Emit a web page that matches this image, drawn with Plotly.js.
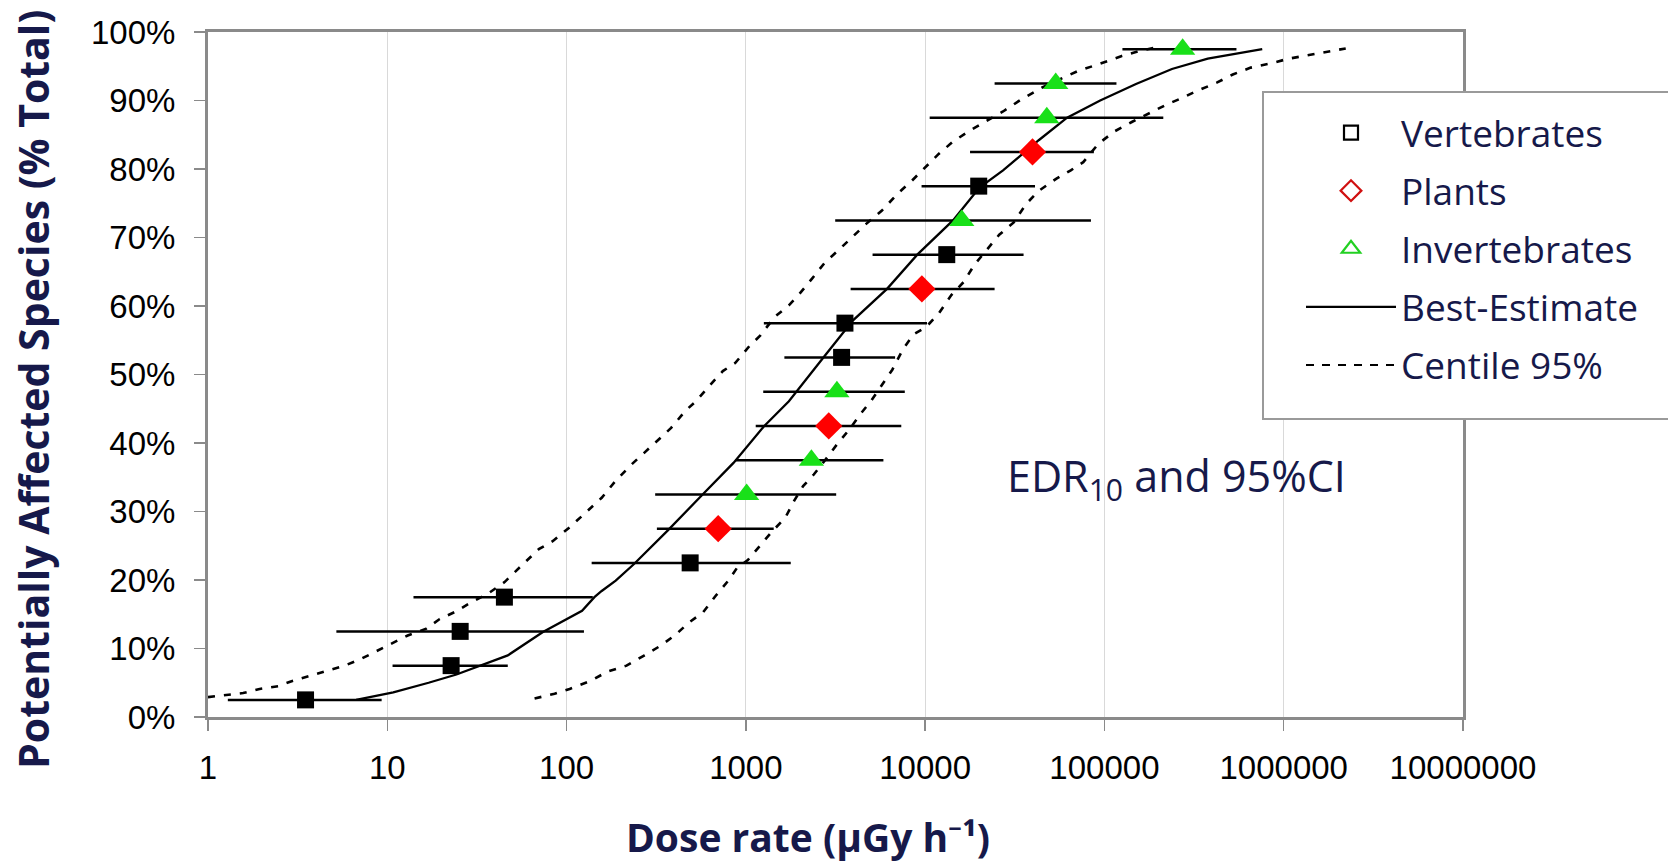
<!DOCTYPE html>
<html>
<head>
<meta charset="utf-8">
<script src="https://cdn.plot.ly/plotly-3.0.1.min.js"></script>
<style>html,body{margin:0;padding:0;background:#fff;}#chart{width:1668px;height:863px;}</style>
</head>
<body>
<div id="chart"></div>
<script>
// ---- Data ----
const vertX  = [3.5, 22.7, 25.5, 45, 489, 3420, 3570, 13200, 19900];
const vertY  = [2.5, 7.5, 12.5, 17.5, 22.5, 52.5, 57.5, 67.5, 77.5];
const vertLo = [1.29, 10.7, 5.2, 14, 138, 1640, 1260, 5090, 9550];
const vertHi = [9.3, 47, 125, 140, 1780, 6800, 10240, 35400, 41000];

const plantX  = [701, 2900, 9590, 39700];
const plantY  = [27.5, 42.5, 62.5, 82.5];
const plantLo = [319, 1135, 3840, 17800];
const plantHi = [1430, 7360, 24400, 87300];

const invX  = [1010, 2320, 3220, 16000, 47700, 53500, 273000];
const invY  = [32.5, 37.5, 47.5, 72.5, 87.5, 92.5, 97.5];
const invLo = [312, 873, 1250, 3150, 10600, 24400, 126000];
const invHi = [3190, 5850, 7700, 84100, 213000, 116700, 545000];

const bestX = [6.7, 10.8, 17, 24.3, 47, 73.8, 122, 143, 157, 188, 237, 366, 565, 853, 1259, 1738, 2750, 3960, 6130, 9040, 14300, 20100, 27200, 34100, 43000, 61900, 94700, 150000, 238000, 377000, 759000];
const bestY = [2.5, 3.6, 5.0, 6.2, 9.0, 12.4, 15.5, 17.5, 18.4, 19.9, 22.3, 27.2, 32.3, 37.1, 42.4, 46.1, 52.7, 57.9, 62.5, 67.5, 72.5, 77.3, 79.8, 82.0, 84.2, 87.5, 90.0, 92.4, 94.6, 96.1, 97.5];

const upperX = [1.0, 1.24, 1.57, 1.94, 2.46, 2.98, 3.69, 4.57, 5.78, 7.16, 9.06, 13.0, 16.5, 19.6, 23.7, 28.8, 36.4, 45.1, 57.1, 70, 84, 104, 125, 157, 188, 231, 272, 326, 383, 460, 527, 634, 744, 874, 1050, 1205, 1447, 1738, 1995, 2340, 2750, 3300, 3960, 4650, 5720, 7030, 8440, 10100, 11900, 14300, 18000, 21600, 27200, 34100, 45000, 56500, 71100, 92700, 125000, 160000, 200000];
const upperY = [2.9, 3.2, 3.5, 4.1, 4.5, 5.3, 6.0, 6.8, 7.5, 8.5, 9.8, 11.9, 12.9, 14.3, 15.3, 16.6, 18.0, 19.7, 22.3, 24.5, 25.7, 27.7, 29.6, 32.0, 34.5, 36.9, 38.6, 40.5, 42.2, 44.7, 46.1, 48.5, 50.5, 51.7, 54.2, 55.7, 58.4, 60.1, 61.8, 64.0, 66.3, 68.2, 70.2, 71.9, 73.9, 76.4, 78.3, 80.3, 82.2, 84.0, 85.7, 86.9, 88.4, 90.1, 91.9, 93.1, 94.3, 95.3, 96.5, 97.3, 97.8];

const lowerX = [66.3, 85.7, 104, 137, 168, 216, 272, 334, 401, 482, 578, 679, 798, 894, 1025, 1177, 1381, 1660, 1862, 2086, 2393, 2750, 3223, 3784, 4345, 4980, 5720, 6560, 7530, 8640, 10100, 11900, 14000, 16400, 18800, 22100, 25900, 31200, 36600, 43000, 54000, 64900, 76200, 92700, 114000, 143000, 180000, 222000, 273000, 328000, 423000, 520000, 655000, 843000, 1062000, 1368000, 1722000, 2218000];
const lowerY = [2.7, 3.4, 4.1, 5.3, 6.6, 7.5, 9.0, 10.4, 11.9, 13.8, 15.3, 17.7, 19.9, 21.8, 22.9, 24.8, 26.9, 29.1, 31.6, 33.7, 35.4, 37.4, 39.8, 42.0, 44.2, 46.1, 48.5, 50.7, 53.7, 55.9, 56.9, 58.9, 61.6, 63.5, 66.0, 68.2, 70.4, 72.2, 74.9, 76.8, 78.6, 79.8, 81.0, 83.7, 85.5, 86.9, 88.2, 89.4, 90.4, 91.4, 92.6, 93.8, 94.8, 95.4, 96.1, 96.6, 97.0, 97.6];

const xTickVals = [1, 10, 100, 1000, 10000, 100000, 1000000, 10000000];
const xTickText = ["1", "10", "100", "1000", "10000", "100000", "1000000", "10000000"];
const yTickVals = [0, 10, 20, 30, 40, 50, 60, 70, 80, 90, 100];
const yTickText = ["0%", "10%", "20%", "30%", "40%", "50%", "60%", "70%", "80%", "90%", "100%"];

const seriesNames = ["Vertebrates", "Plants", "Invertebrates", "Best-Estimate", "Centile 95%"];

// ---- Styling ----
const NAVY = '#16194a';
const GREEN = '#19e019';
const RED = '#ff0000';

function errX(x, lo, hi) {
  return {
    type: 'data', symmetric: false,
    array: hi.map((h, i) => h - x[i]),
    arrayminus: lo.map((l, i) => x[i] - l),
    color: '#000', thickness: 2.5, width: 0
  };
}

const dashStyle = {color: '#000', width: 2.6, dash: '7px,9px'};

const traces = [
  {x: upperX, y: upperY, mode: 'lines', line: dashStyle, showlegend: false, hoverinfo: 'skip'},
  {x: lowerX, y: lowerY, mode: 'lines', line: dashStyle, showlegend: false, hoverinfo: 'skip'},
  {x: bestX, y: bestY, mode: 'lines', line: {color: '#000', width: 2.3}, showlegend: false, hoverinfo: 'skip'},
  {x: vertX, y: vertY, mode: 'markers', error_x: errX(vertX, vertLo, vertHi),
   marker: {symbol: 'square', size: 17, color: '#000'}, showlegend: false},
  {x: plantX, y: plantY, mode: 'markers', error_x: errX(plantX, plantLo, plantHi),
   marker: {symbol: 'diamond', size: 21, color: RED}, showlegend: false},
  {x: invX, y: invY, mode: 'markers', error_x: errX(invX, invLo, invHi),
   marker: {symbol: 'triangle-up', size: 22, color: GREEN}, showlegend: false},
  // legend entries (Excel-style hollow symbols)
  {x: [null], y: [null], name: seriesNames[0], mode: 'markers', legendgroup: 'a',
   marker: {symbol: 'square-open', size: 14, color: '#000', line: {width: 2.2, color: '#000'}}},
  {x: [null], y: [null], name: seriesNames[1], mode: 'markers', legendgroup: 'b',
   marker: {symbol: 'diamond-open', size: 16, color: '#d01010', line: {width: 2.2, color: '#d01010'}}},
  {x: [null], y: [null], name: seriesNames[2], mode: 'markers', legendgroup: 'c',
   marker: {symbol: 'triangle-up-open', size: 16, color: '#22d022', line: {width: 2.2, color: '#22d022'}}},
  {x: [null], y: [null], name: seriesNames[3], mode: 'lines', legendgroup: 'd',
   line: {color: '#000', width: 2.4}},
  {x: [null], y: [null], name: seriesNames[4], mode: 'lines', legendgroup: 'e',
   line: {color: '#000', width: 2, dash: '8px,8px'}}
];

const L = 208, R = 1463, T = 32, B = 717;
const W = 1668, H = 863;
const px = v => (v - L) / (R - L);   // pixel -> paper x
const py = v => (B - v) / (B - T);   // pixel -> paper y

const layout = {
  width: W, height: H,
  paper_bgcolor: '#fff', plot_bgcolor: '#fff',
  margin: {l: L, r: W - R, t: T, b: H - B, pad: 0},
  showlegend: true,
  xaxis: {
    type: 'log', range: [0, 7], autorange: false,
    tickmode: 'array', tickvals: xTickVals, ticktext: xTickText,
    showgrid: true, gridcolor: '#d9d9d9', gridwidth: 1,
    showline: true, linecolor: '#8a8a8a', linewidth: 3, mirror: true,
    ticks: 'outside', ticklen: 11, tickwidth: 1.5, tickcolor: '#8a8a8a',
    ticklabelstandoff: 8,
    tickfont: {family: 'Liberation Sans, Arial, sans-serif', size: 33, color: '#000'},
    zeroline: false, fixedrange: true
  },
  yaxis: {
    range: [0, 100], autorange: false,
    tickmode: 'array', tickvals: yTickVals, ticktext: yTickText,
    showgrid: false,
    showline: true, linecolor: '#8a8a8a', linewidth: 3, mirror: true,
    ticks: 'outside', ticklen: 11, tickwidth: 1.5, tickcolor: '#8a8a8a',
    ticklabelstandoff: 12,
    tickfont: {family: 'Liberation Sans, Arial, sans-serif', size: 33, color: '#000'},
    zeroline: false, fixedrange: true
  },
  shapes: [
    {type: 'rect', xref: 'paper', yref: 'paper', layer: 'above',
     x0: px(1263), x1: px(1690), y0: py(419), y1: py(92),
     line: {color: '#9a9a9a', width: 2}, fillcolor: '#ffffff'}
  ],
  legend: {
    x: px(1301), y: py(102), xanchor: 'left', yanchor: 'top',
    bgcolor: 'rgba(0,0,0,0)', borderwidth: 0,
    font: {family: 'Open Sans, Noto Sans, sans-serif', size: 37, color: NAVY},
    traceorder: 'grouped', tracegroupgap: 7, itemwidth: 90
  },
  annotations: [
    {text: 'EDR<sub>10</sub> and 95%CI', xref: 'paper', yref: 'paper',
     x: px(1176), y: py(478), xanchor: 'center', yanchor: 'middle',
     showarrow: false, font: {family: 'Open Sans, Noto Sans, sans-serif', size: 43, color: NAVY}},
    {text: '<b>Dose rate (µGy h⁻¹)</b>', xref: 'paper', yref: 'paper',
     x: px(808), y: py(836), xanchor: 'center', yanchor: 'middle',
     showarrow: false, font: {family: 'Open Sans, Noto Sans, DejaVu Sans, sans-serif', size: 39, color: NAVY}},
    {text: '<b>Potentially Affected Species (% Total)</b>', xref: 'paper', yref: 'paper',
     x: px(33), y: py(390), xanchor: 'center', yanchor: 'middle',
     textangle: -90,
     showarrow: false, font: {family: 'Open Sans, Noto Sans, sans-serif', size: 41, color: NAVY}}
  ]
};

Plotly.newPlot('chart', traces, layout, {staticPlot: true, displayModeBar: false});
</script>
</body>
</html>
